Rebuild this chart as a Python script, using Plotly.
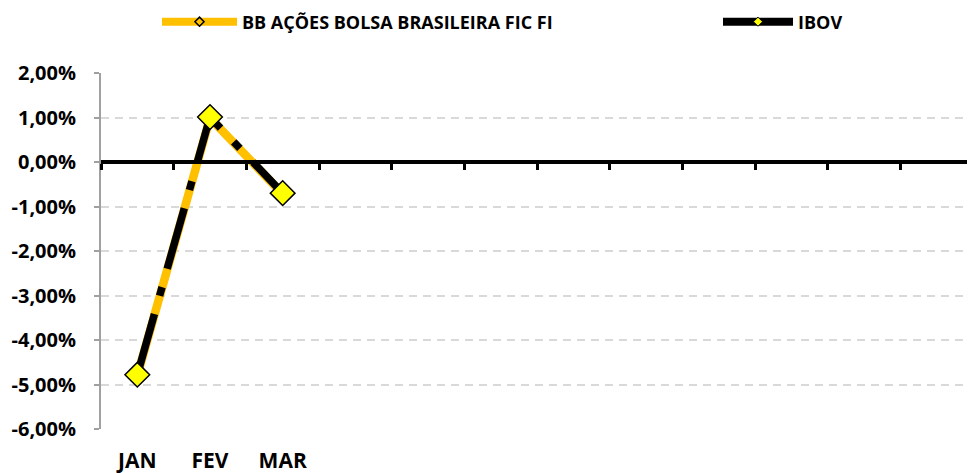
import plotly.graph_objects as go

months = ["JAN", "FEV", "MAR"]
bb_values = [-0.0480, 0.0099, -0.0072]
ibov_values = [-0.0478, 0.0101, -0.0070]
y_ticks = [0.02, 0.01, 0.0, -0.01, -0.02, -0.03, -0.04, -0.05, -0.06]
y_tick_labels = ["2,00%", "1,00%", "0,00%", "-1,00%", "-2,00%", "-3,00%", "-4,00%", "-5,00%", "-6,00%"]
n_slots = 12

GOLD = "#FFC000"
YELLOW = "#FFFF00"
FONT = "Open Sans"

W, H = 967, 465  # page body has an 8px margin

fig = go.Figure()

# decorative x axis along zero line
fig.add_trace(go.Scatter(x=[0], y=[0], xaxis="x2", mode="markers",
                         marker=dict(opacity=0), showlegend=False, hoverinfo="skip"))

# series lines
fig.add_trace(go.Scatter(
    x=months, y=bb_values, mode="lines+markers", name="BB AÇÕES BOLSA BRASILEIRA FIC FI",
    line=dict(color=GOLD, width=8.5),
    marker=dict(symbol="diamond", size=7, color=GOLD, line=dict(color="black", width=1.5)),
    showlegend=False,
))
fig.add_trace(go.Scatter(
    x=months, y=ibov_values, mode="lines+markers", name="IBOV",
    line=dict(color="black", width=7.5, dash="63px,19px,9px,19px"),
    marker=dict(symbol="diamond", size=19, color=YELLOW, line=dict(color="black", width=1.5)),
    showlegend=False,
))

# legend entries
fig.add_trace(go.Scatter(
    x=[None], y=[None], mode="lines+markers", name="BB AÇÕES BOLSA BRASILEIRA FIC FI",
    line=dict(color=GOLD, width=8),
    marker=dict(symbol="diamond", size=7, color=GOLD, line=dict(color="black", width=1.5)),
    legend="legend",
))
fig.add_trace(go.Scatter(
    x=[None], y=[None], mode="lines+markers", name="IBOV",
    line=dict(color="black", width=8),
    marker=dict(symbol="diamond", size=7, color=YELLOW, line=dict(color="black", width=1)),
    legend="legend2",
))

legend_font = dict(family=FONT, size=18, color="black", weight="bold")

fig.update_layout(
    width=W, height=H,
    margin=dict(l=93, r=2, t=65, b=44, autoexpand=False),
    paper_bgcolor="white", plot_bgcolor="white",
    font=dict(family=FONT, color="black"),
    legend=dict(
        orientation="h", xref="container", yref="container",
        x=149 / W, y=1 - 14 / H, xanchor="left", yanchor="middle",
        font=legend_font, itemwidth=75, bgcolor="rgba(0,0,0,0)",
    ),
    legend2=dict(
        orientation="h", xref="container", yref="container",
        x=710 / W, y=1 - 14 / H, xanchor="left", yanchor="middle",
        font=legend_font, itemwidth=70, bgcolor="rgba(0,0,0,0)",
    ),
    xaxis=dict(
        type="category", categoryarray=months, range=[-0.5, n_slots - 0.5],
        showline=False, showgrid=False, zeroline=False, ticks="outside", ticklen=13,
        tickcolor="rgba(0,0,0,0)", automargin=False,
        tickfont=dict(family=FONT, size=21, weight="bold", color="black"),
    ),
    xaxis2=dict(
        overlaying="x", anchor="free", position=0.75, side="bottom",
        range=[-0.5, n_slots - 0.5], showline=True, linecolor="black", linewidth=4,
        tickmode="array", tickvals=[i - 0.5 for i in range(n_slots + 1)],
        ticks="outside", ticklen=6, tickwidth=3, tickcolor="black",
        showticklabels=False, showgrid=False, zeroline=False, automargin=False,
    ),
    yaxis=dict(
        range=[-0.06, 0.02], tickvals=y_ticks, ticktext=y_tick_labels,
        showline=True, linecolor="#A0A0A0", linewidth=2,
        ticks="outside", ticklen=5, tickcolor="#A0A0A0", tickwidth=1.5,
        ticklabelstandoff=14,
        showgrid=True, gridcolor="#D9D9D9", griddash="8px,6px", gridwidth=1.5,
        zeroline=False, automargin=False,
        tickfont=dict(family=FONT, size=20, weight="bold", color="black"),
    ),
)

fig.write_html("out.html")
